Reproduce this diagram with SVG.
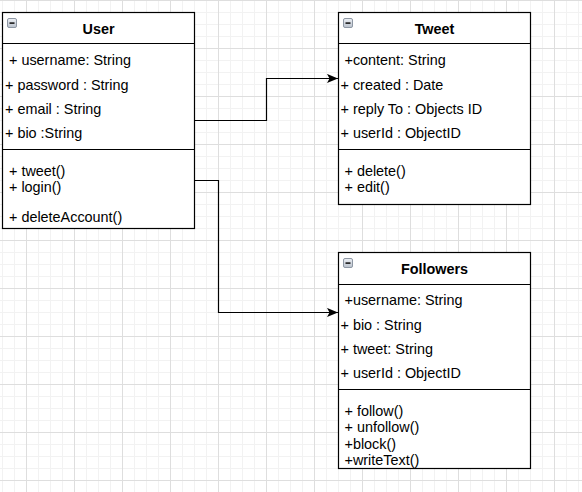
<svg xmlns="http://www.w3.org/2000/svg" width="582" height="492" viewBox="0 0 582 492">
<style>
.box{fill:#ffffff;stroke:#000000;stroke-width:1.2}
.sep{stroke:#000000;stroke-width:1.2;fill:none}
.t{font-family:"Liberation Sans",Arial,Helvetica,sans-serif;font-size:14.4px;fill:#000000}
.title{font-family:"Liberation Sans",Arial,Helvetica,sans-serif;font-size:14.4px;font-weight:bold;fill:#000000;text-anchor:middle}
.edge{fill:none;stroke:#000000;stroke-width:1.2}
</style>
<defs>
<pattern id="minor" patternUnits="userSpaceOnUse" x="2" y="0" width="12" height="12">
<path d="M0.5,0 V12 M0,0.5 H12" stroke="#f2f2f2" stroke-width="1" fill="none"/>
</pattern>
<pattern id="major" patternUnits="userSpaceOnUse" x="26" y="0" width="48" height="48">
<path d="M0.5,0 V48 M0,0.5 H48" stroke="#dedede" stroke-width="1" fill="none"/>
</pattern>
<linearGradient id="icg" x1="0" y1="0" x2="0" y2="1">
<stop offset="0" stop-color="#eef1f6"/>
<stop offset="1" stop-color="#b9c1cc"/>
</linearGradient>
<g id="icon">
<rect x="0.5" y="0.5" width="9" height="9" rx="1.5" fill="url(#icg)" stroke="#8e97a4" stroke-width="1"/>
<rect x="2.5" y="4.3" width="5" height="1.6" fill="#1a1a1a"/>
</g>
<marker id="arr" markerUnits="userSpaceOnUse" markerWidth="12" markerHeight="10" viewBox="-12 -5 12 10" refX="0" refY="0" orient="auto">
<path d="M0,0 L-11,-4.6 L-8.5,0 L-11,4.6 Z" fill="#000000"/>
</marker>
</defs>
<rect x="0" y="0" width="582" height="492" fill="#ffffff"/>
<rect x="0" y="0" width="582" height="492" fill="url(#minor)"/>
<rect x="0" y="0" width="582" height="492" fill="url(#major)"/>

<g id="connectors">
<path class="edge" d="M194.5,120.5 H266.5 V78.5 H338" marker-end="url(#arr)"/>
<path class="edge" d="M194.5,180.5 H218.5 V312.5 H338" marker-end="url(#arr)"/>
</g>

<g id="user">
<rect class="box" x="2.5" y="12.5" width="192" height="216"/>
<path class="sep" d="M2.5,43.5 H194.5 M2.5,149.5 H194.5"/>
<use href="#icon" x="7" y="18"/>
<text class="title" x="98.5" y="33.5">User</text>
<text class="t" x="5" y="65" xml:space="preserve"> + username: String</text>
<text class="t" x="5" y="90">+ password : String</text>
<text class="t" x="5" y="114">+ email : String</text>
<text class="t" x="5" y="138">+ bio :String</text>
<text class="t" x="5" y="176" xml:space="preserve"> + tweet()</text>
<text class="t" x="5" y="192" xml:space="preserve"> + login()</text>
<text class="t" x="5" y="221.5" xml:space="preserve"> + deleteAccount()</text>
</g>

<g id="tweet">
<rect class="box" x="338.5" y="12.5" width="192" height="192"/>
<path class="sep" d="M338.5,43.5 H530.5 M338.5,149.5 H530.5"/>
<use href="#icon" x="343" y="18"/>
<text class="title" x="434.5" y="34">Tweet</text>
<text class="t" x="340.5" y="65" xml:space="preserve"> +content: String</text>
<text class="t" x="340.5" y="90">+ created : Date</text>
<text class="t" x="340.5" y="114">+ reply To : Objects ID</text>
<text class="t" x="340.5" y="138">+ userId : ObjectID</text>
<text class="t" x="340.5" y="176" xml:space="preserve"> + delete()</text>
<text class="t" x="340.5" y="192" xml:space="preserve"> + edit()</text>
</g>

<g id="followers">
<rect class="box" x="338.5" y="252.5" width="192" height="216"/>
<path class="sep" d="M338.5,284.5 H530.5 M338.5,389.5 H530.5"/>
<use href="#icon" x="343" y="258"/>
<text class="title" x="434.5" y="274">Followers</text>
<text class="t" x="340.5" y="305" xml:space="preserve"> +username: String</text>
<text class="t" x="340.5" y="330">+ bio : String</text>
<text class="t" x="340.5" y="354">+ tweet: String</text>
<text class="t" x="340.5" y="378">+ userId : ObjectID</text>
<text class="t" x="340.5" y="415.5" xml:space="preserve"> + follow()</text>
<text class="t" x="340.5" y="432" xml:space="preserve"> + unfollow()</text>
<text class="t" x="340.5" y="448.5" xml:space="preserve"> +block()</text>
<text class="t" x="340.5" y="465" xml:space="preserve"> +writeText()</text>
</g>
</svg>
